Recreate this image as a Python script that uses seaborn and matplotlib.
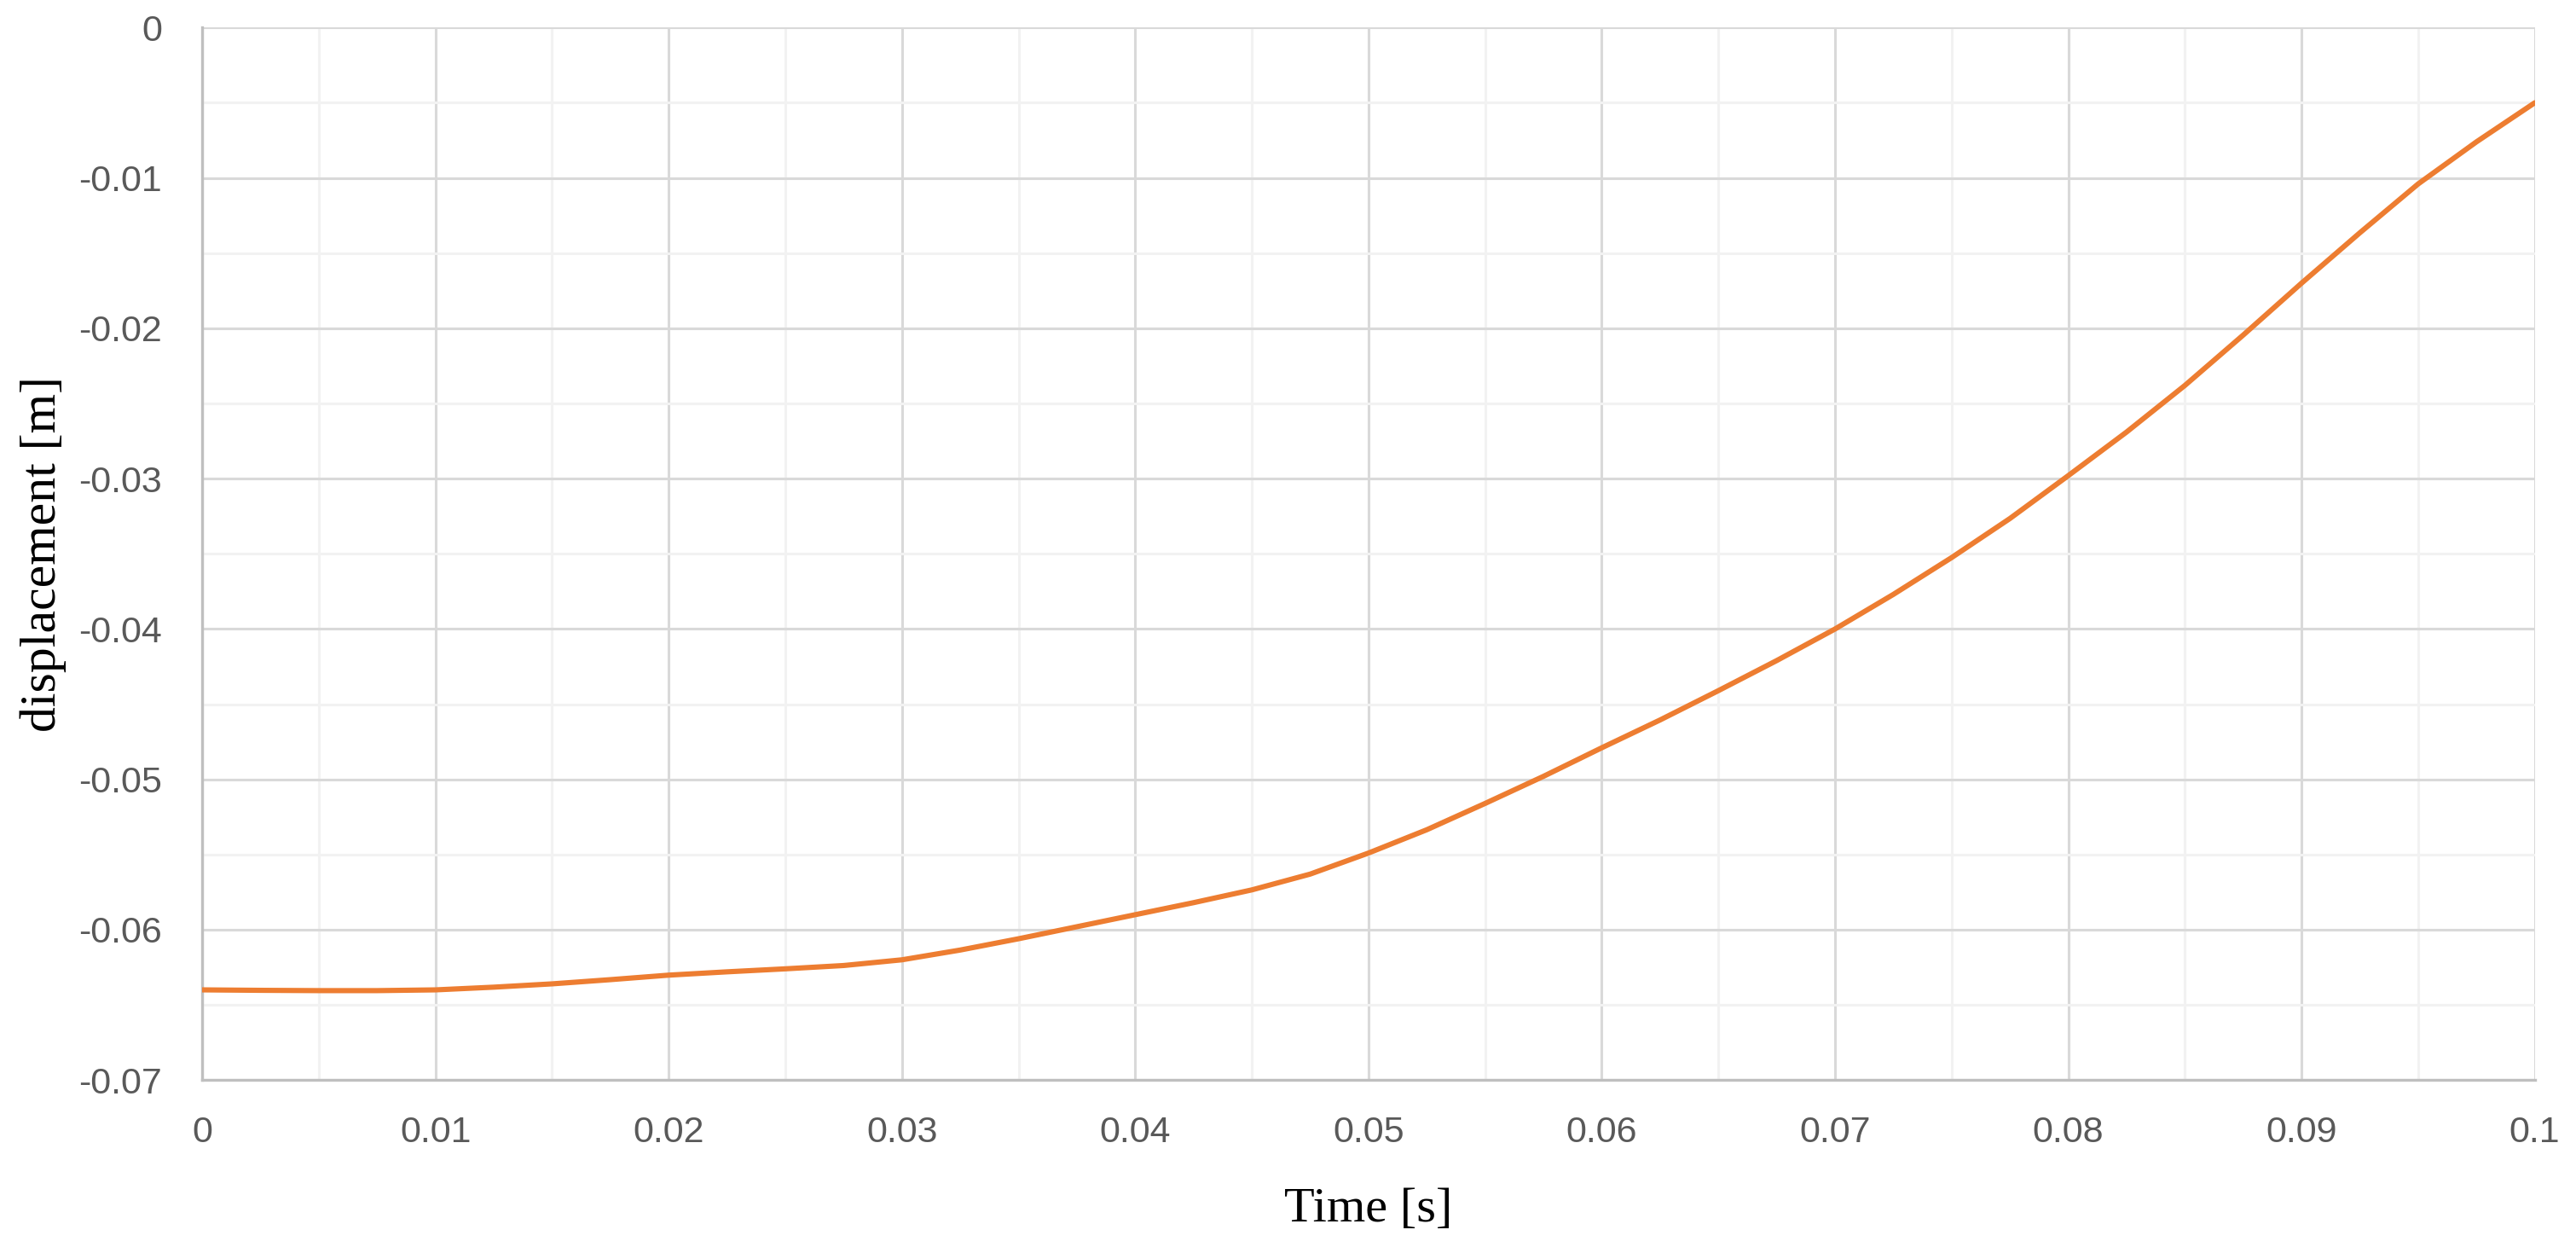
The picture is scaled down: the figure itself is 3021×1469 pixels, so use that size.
import numpy as np
import pandas as pd
import matplotlib
matplotlib.use("Agg")
import matplotlib.pyplot as plt
import seaborn as sns
from matplotlib.ticker import MultipleLocator, FuncFormatter

# values (every 0.0025 s)
time_s = [0.0, 0.0025, 0.005, 0.0075, 0.01, 0.0125, 0.015, 0.0175, 0.02, 0.0225,
          0.025, 0.0275, 0.03, 0.0325, 0.035, 0.0375, 0.04, 0.0425, 0.045, 0.0475,
          0.05, 0.0525, 0.055, 0.0575, 0.06, 0.0625, 0.065, 0.0675, 0.07, 0.0725,
          0.075, 0.0775, 0.08, 0.0825, 0.085, 0.0875, 0.09, 0.0925, 0.095, 0.0975, 0.1]
displacement_m = [-0.06400, -0.06403, -0.06405, -0.06405, -0.06400, -0.06382, -0.06360,
                  -0.06332, -0.06302, -0.06280, -0.06260, -0.06238, -0.06200, -0.06135,
                  -0.06060, -0.05980, -0.05900, -0.05820, -0.05735, -0.05630, -0.05490,
                  -0.05335, -0.05160, -0.04980, -0.04790, -0.04605, -0.04410, -0.04210,
                  -0.04000, -0.03770, -0.03525, -0.03265, -0.02980, -0.02690, -0.02380,
                  -0.02045, -0.01700, -0.01365, -0.01040, -0.00760, -0.00500]

df = pd.DataFrame({"Time": time_s, "Displacement": displacement_m})

sns.set_style("white")
plt.rcParams["font.family"] = ["Liberation Sans", "DejaVu Sans"]

fig, ax = plt.subplots(figsize=(15.105, 7.345), dpi=200)
fig.subplots_adjust(left=0.0785, right=0.984, top=0.978, bottom=0.138)

sns.lineplot(data=df, x="Time", y="Displacement", ax=ax, color="#ED7D31",
             linewidth=2.2, zorder=3)
ax.lines[0].set_solid_joinstyle("round")

ax.set_xlim(0, 0.1)
ax.set_ylim(-0.07, 0)
ax.xaxis.set_major_locator(MultipleLocator(0.01))
ax.xaxis.set_minor_locator(MultipleLocator(0.005))
ax.yaxis.set_major_locator(MultipleLocator(0.01))
ax.yaxis.set_minor_locator(MultipleLocator(0.005))


def tick_label(v, pos):
    if abs(v) < 1e-9:
        return "0"
    if abs(v - 0.1) < 1e-9:
        return "0.1"
    return f"{v:.2f}"


ax.xaxis.set_major_formatter(FuncFormatter(tick_label))
ax.yaxis.set_major_formatter(FuncFormatter(tick_label))

ax.grid(which="major", color="#d9d9d9", linewidth=1.1, zorder=0)
ax.grid(which="minor", color="#f2f2f2", linewidth=1.1, zorder=0)
ax.set_axisbelow(True)

for side in ["top", "right"]:
    ax.spines[side].set_visible(False)
for side in ["left", "bottom"]:
    ax.spines[side].set_color("#bfbfbf")
    ax.spines[side].set_linewidth(1.2)

ax.tick_params(which="both", length=0, labelsize=15.5, labelcolor="#595959")
ax.tick_params(axis="x", pad=15)
ax.tick_params(axis="y", pad=17)

ax.set_xlabel("Time [s]", family="Liberation Serif", fontsize=21, color="black", labelpad=16)
ax.set_ylabel("displacement [m]", family="Liberation Serif", fontsize=21.5, color="black", labelpad=5)

fig.savefig("out.png", dpi=200)
